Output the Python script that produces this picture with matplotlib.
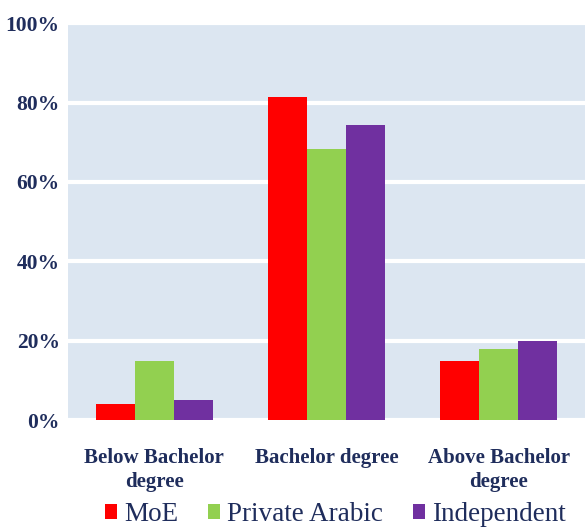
import numpy as np
import matplotlib.pyplot as plt

# === Data ===
categories = ["Below Bachelor\ndegree", "Bachelor degree", "Above Bachelor\ndegree"]
series_names = ["MoE", "Private Arabic", "Independent"]
moe = [4, 81.5, 15]
private_arabic = [15, 68.3, 18]
independent = [5, 74.3, 20]

colors = ["#FF0000", "#92D050", "#7030A0"]
navy = "#1F2D5C"

plt.rcParams['font.family'] = ['Liberation Serif', 'DejaVu Serif']

fig = plt.figure(figsize=(5.85, 5.28), dpi=100)
ax = fig.add_axes([0.1162, 0.2045, 0.8838, 0.7515])
ax.set_facecolor("#DCE6F1")

x = np.arange(len(categories))
w = 0.226
for i, (vals, name) in enumerate(zip([moe, private_arabic, independent], series_names)):
    ax.bar(x + (i - 1) * w, vals, width=w, color=colors[i], label=name, zorder=3)

ax.set_xlim(-0.5, 2.5)
ax.set_ylim(0, 100)
ax.set_yticks(range(0, 101, 20))
ax.set_yticklabels([f"{v}%" for v in range(0, 101, 20)])
ax.set_xticks(x)
ax.set_xticklabels(categories)
ax.grid(axis='y', color='white', linewidth=3, zorder=1)
ax.set_axisbelow(True)
for s in ax.spines.values():
    s.set_visible(False)
ax.tick_params(length=0)
ax.tick_params(axis='y', pad=6, labelsize=15.5, labelcolor=navy)
ax.tick_params(axis='x', pad=20, labelsize=15, labelcolor=navy)
for lab in ax.get_xticklabels() + ax.get_yticklabels():
    lab.set_fontweight('bold')
for lab in ax.get_xticklabels():
    lab.set_linespacing(1.3)

leg = fig.legend(loc='lower center', bbox_to_anchor=(0.573, -0.045), ncol=3, frameon=False,
                 fontsize=19.5, handlelength=0.45, handleheight=0.45, handletextpad=0.25,
                 columnspacing=1.1)
for t in leg.get_texts():
    t.set_color(navy)

plt.savefig("out.png", dpi=100)
